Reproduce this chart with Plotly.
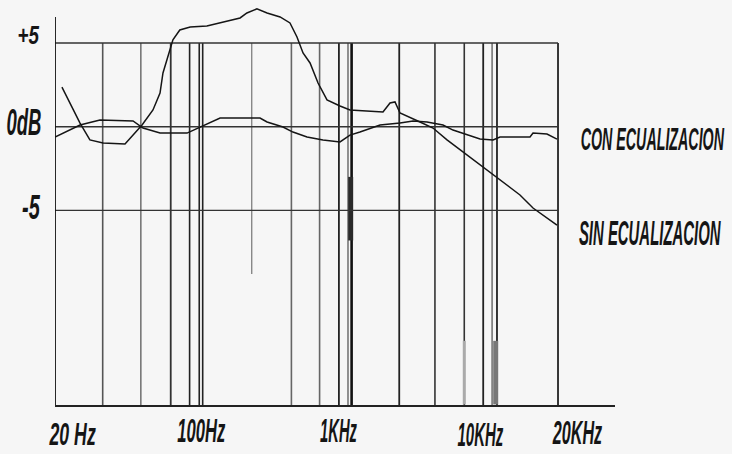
import plotly.graph_objects as go
import math
import json

# ---------------- data ----------------
sin_freq = [22.0, 28.2, 32.3, 38.7, 52.3, 66.1, 76.8, 84.6, 88.1, 94.4, 101, 111, 128, 161, 193,
            254, 279, 320, 368, 440, 504, 555, 603, 664, 741, 838, 1002, 1149, 1808, 1991,
            2132, 2284, 3006, 3593, 4355, 5425, 7140, 9928, 11866, 14188, 17920, 19720]
sin_db = [2.37, 0.22, -0.79, -0.97, -1.03, 0.10, 1.00, 2.01, 3.21, 4.17, 5.19, 5.78, 5.96, 6.02, 6.20,
          6.50, 6.80, 7.04, 6.80, 6.56, 6.20, 5.36, 4.41, 3.81, 2.61, 1.60, 1.24, 1.00, 0.88, 1.42,
          1.48, 0.82, 0.28, -0.08, -0.79, -1.51, -2.41, -3.49, -4.08, -4.86, -5.58, -5.88]

con_freq = [20, 28.2, 37.1, 58.4, 67.0, 84.6, 122.6, 146.5, 168, 193, 334, 368, 458, 525, 637,
            793, 1002, 1149, 1318, 1736, 2284, 2730, 3309, 4122, 4729, 5733, 6851, 8196, 9016,
            13616, 14188, 17192, 19720]
con_db = [-0.62, 0.10, 0.40, 0.34, -0.08, -0.38, -0.38, -0.02, 0.28, 0.52, 0.52, 0.28, -0.02, -0.32, -0.62,
          -0.79, -0.91, -0.50, -0.32, 0.10, 0.22, 0.34, 0.28, 0.10, -0.20, -0.50, -0.74, -0.79, -0.62,
          -0.62, -0.38, -0.44, -0.74]

series_names = ["CON ECUALIZACION", "SIN ECUALIZACION"]

grid_db = [5, 0, -5]
grid_db_labels = ["+5", "0dB", "-5"]

vline_freq = [38.5, 65, 98, 127, 145, 152, 298, 514, 757, 987, 1118, 1175,
              2260, 3690, 5520, 7160, 8090, 8650, 20000]

# heavier smudges on a few band lines (freq, top dB, bottom dB)
smudge_freq = [1160, 8500, 5520]
smudge_top_db = [-3.0, -12.8, -12.8]
smudge_bottom_db = [-6.8, -16.6, -16.6]

x_tick_labels = ["20 Hz", "100Hz", "1KHz", "10KHz", "20KHz"]
x_tick_anchor_freq = [25.6, 148.5, 975, 6851, 25960]

f_min, f_max = 20, 20000

# ---------------- styles ----------------
W, H = 732, 454
ML, MR, MT, MB = 55, 117, 0, 49
PX_PER_DEC = 167.67
PX_PER_DB = 16.73
plot_w = W - ML - MR
plot_h = H - MT - MB
x_lo = math.log10(f_min)
x_hi = x_lo + plot_w / PX_PER_DEC
y_lo = -(plot_h - 126.7) / PX_PER_DB
y_hi = 126.7 / PX_PER_DB
axis_top_db = 6.55

vline_color = ["#555", "#777", "#333", "#222", "#222", "#222", "#888", "#666", "#666", "#222",
               "#777", "#111", "#222", "#333", "#333", "#222", "#777", "#222", "#222"]
vline_width = [1.6, 1.6, 1.8, 1.6, 1.6, 1.6, 1.4, 1.6, 1.6, 1.8,
               1.6, 2.6, 1.8, 1.6, 1.6, 1.8, 1.6, 1.8, 1.8]
vline_bottom = [y_lo] * len(vline_freq)
vline_bottom[6] = -8.8
smudge_color = ["#2a2a2a", "#777", "#aaa"]
smudge_width = [5, 5, 3]

FONT = "Liberation Sans, Arial, sans-serif"
INK = "#151515"
BG = "#f6f6f6"

# lettering: natural font size, target width and target cap height (condensed italic)
text_spec = {
    "+5": (18, 22, 18), "0dB": (18, 35, 27), "-5": (18, 18, 25),
    "20 Hz": (15, 47, 23), "100Hz": (14, 48, 24), "1KHz": (14, 37, 24),
    "10KHz": (14, 46, 24), "20KHz": (14, 50, 24),
    "CON ECUALIZACION": (13, 144, 23), "SIN ECUALIZACION": (13, 142, 25),
}

fig = go.Figure()

fig.add_trace(go.Scatter(x=con_freq, y=con_db, mode="lines", name=series_names[0],
                         line=dict(color=INK, width=1.5)))
fig.add_trace(go.Scatter(x=sin_freq, y=sin_db, mode="lines", name=series_names[1],
                         line=dict(color=INK, width=1.5)))

shapes = []
for f, c, w, yb in zip(vline_freq, vline_color, vline_width, vline_bottom):
    shapes.append(dict(type="line", xref="x", yref="y", x0=f, x1=f, y0=grid_db[0], y1=yb,
                       line=dict(color=c, width=w), layer="below"))
for f, t, b, c, w in zip(smudge_freq, smudge_top_db, smudge_bottom_db, smudge_color, smudge_width):
    shapes.append(dict(type="line", xref="x", yref="y", x0=f, x1=f, y0=t, y1=max(b, y_lo),
                       line=dict(color=c, width=w), layer="below"))
for d in grid_db:
    shapes.append(dict(type="line", xref="x", yref="y", x0=f_min, x1=f_max, y0=d, y1=d,
                       line=dict(color="#333", width=1.4), layer="below"))
# left axis
shapes.append(dict(type="line", xref="x", yref="y", x0=f_min, x1=f_min, y0=axis_top_db, y1=y_lo,
                   line=dict(color="#111", width=1.8)))


def tfont(txt):
    return dict(family=FONT, color=INK, style="italic", weight="bold", size=text_spec[txt][0])


annotations = []
y_label_shift = [7, 5, 3]
y_label_px = [29, 24, 31]
for txt, d, sh, px in zip(grid_db_labels, grid_db, y_label_shift, y_label_px):
    annotations.append(dict(text=txt, xref="paper", yref="y", x=(px - ML) / plot_w, y=d, yshift=sh,
                            xanchor="center", yanchor="middle", showarrow=False, font=tfont(txt)))

x_label_py = [434, 430, 430, 434, 432]
for txt, f, py in zip(x_tick_labels, x_tick_anchor_freq, x_label_py):
    annotations.append(dict(text=txt, xref="x", yref="paper", x=math.log10(f),
                            y=(plot_h - py + MT) / plot_h,
                            xanchor="center", yanchor="middle", showarrow=False, font=tfont(txt)))

legend_px = [(652, 138), (650, 234)]
for txt, (px, py) in zip(series_names, legend_px):
    annotations.append(dict(text=txt, xref="paper", yref="paper", x=(px - ML) / plot_w,
                            y=(plot_h - py + MT) / plot_h,
                            xanchor="center", yanchor="middle", showarrow=False, font=tfont(txt)))

fig.update_layout(
    width=W, height=H,
    margin=dict(l=ML, r=MR, t=MT, b=MB, pad=0),
    paper_bgcolor=BG, plot_bgcolor=BG,
    showlegend=False,
    shapes=shapes,
    annotations=annotations,
    xaxis=dict(type="log", range=[x_lo, x_hi], showgrid=False, zeroline=False,
               showticklabels=False, ticks="", showline=True, linecolor="#222", linewidth=1.6,
               fixedrange=True),
    yaxis=dict(range=[y_lo, y_hi], showgrid=False, zeroline=False, showticklabels=False,
               ticks="", showline=False, fixedrange=True),
)

js_spec = json.dumps({k: [v[1], v[2]] for k, v in text_spec.items()})
post = """
document.documentElement.style.margin = '0';
document.body.style.margin = '0';
document.body.style.padding = '0';
document.body.style.background = '#f6f6f6';
var gd = document.getElementById('{plot_id}');
var SPEC = %s;
function fitText(){
  document.querySelectorAll('svg text').forEach(function(t){
    var s = (t.textContent || '').trim();
    if (!Object.prototype.hasOwnProperty.call(SPEC, s)) { return; }
    var bb = t.getBBox();
    if (!bb || !bb.width) { return; }
    var fs = parseFloat(window.getComputedStyle(t).fontSize) || 14;
    var sx = SPEC[s][0] / bb.width;
    var sy = SPEC[s][1] / (0.72 * fs);
    var cx = bb.x + bb.width / 2, cy = bb.y + bb.height / 2;
    t.setAttribute('transform', 'translate(' + cx + ',' + cy + ') scale(' + sx + ',' + sy + ') translate(' + (-cx) + ',' + (-cy) + ')');
  });
}
fitText();
if (gd && gd.on) { gd.on('plotly_afterplot', fitText); }
var nFit = 0;
var ivFit = setInterval(function(){ fitText(); nFit += 1; if (nFit > 40) { clearInterval(ivFit); } }, 50);
""" % js_spec

fig.write_html("out.html", post_script=post, config={"displayModeBar": False})
